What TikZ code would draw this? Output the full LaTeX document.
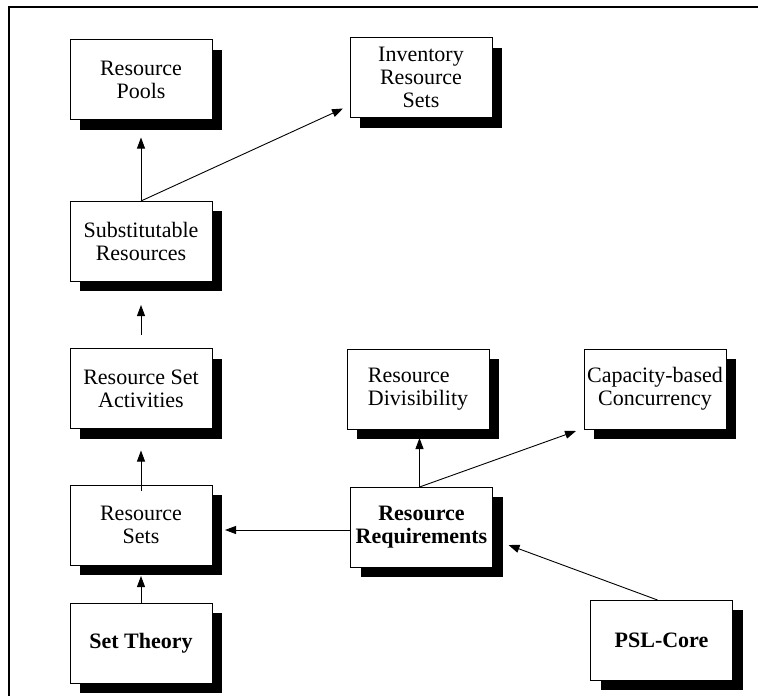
\documentclass[tikz,border=0pt]{standalone}
\usepackage{fontspec}
\setmainfont{Liberation Serif}
\usetikzlibrary{
positioning,
arrows.meta,
shadows,
}
\tikzset{
outer sep=0pt,
every node/.style={align=center},
topic/.style={rectangle, draw, line width=0.8pt, fill=white,
  minimum width=142pt, minimum height=80pt, inner sep=0pt,
  font=\fontsize{22}{23}\selectfont,
  drop shadow={shadow xshift=10pt, shadow yshift=-10pt, fill=black, opacity=1}},
core/.style={topic, font=\fontsize{22}{23}\selectfont\bfseries},
link/.style={->, line width=0.9pt},
>={Triangle[length=11pt,width=8pt]},
}

\begin{document}
\begin{tikzpicture}[x=1pt, y=-1pt]
    \useasboundingbox (0,0) rectangle (758,696);
    % frame, top and left only
    \draw [line width=1.5pt] (9,696) -- (9,7) -- (758,7);

    % left column
    \node [topic] (pools) at (141,79.5) {Resource\\Pools};
    \node [topic] (sub) at (141,241) {Substitutable\\Resources};
    \node [topic] (act) at (141,388.5) {Resource Set\\Activities};
    \node [topic] (sets) at (141,525) {Resource\\Sets};
    \node [core] (theory) at (141,643) {Set Theory};
    % middle and right
    \node [topic] (inv) at (421,77.5) {Inventory\\Resource\\Sets};
    \node [topic, align=left] (div) at (418,389) {Resource\\Divisibility};
    \node [topic] (cap) at (655,389) {Capacity-based\\Concurrency};
    \node [core] (req) at (421.5,527) {Resource\\Requirements};
    \node [core] (psl) at (661.5,640) {PSL-Core};

    \draw [link, shorten >=18pt] (sub.north) -- (pools.south);
    \draw [link] (sub.north) -- ([xshift=-7pt,yshift=-31pt]inv.west);
    \draw [link, shorten <=14pt, shorten >=24pt] (act.north) -- (sub.south);
    \draw [link, shorten <=-6pt, shorten >=22pt] (sets.north) -- (act.south);
    \draw [link, shorten >=11pt] (theory.north) -- (sets.south);
    \draw [link, shorten >=13pt] ([yshift=-3pt]req.west) -- ([yshift=-3pt]req.west -| sets.east);
    \draw [link, shorten >=9pt] ([xshift=-2pt]req.north) -- ([xshift=-2pt]req.north |- div.south);
    \draw [link] ([xshift=-2pt]req.north) -- ([xshift=-8pt,yshift=-2pt]cap.south west);
    \draw [link] ([xshift=-4pt]psl.north) -- ([xshift=16pt,yshift=-18pt]req.east);
\end{tikzpicture}
\end{document}
